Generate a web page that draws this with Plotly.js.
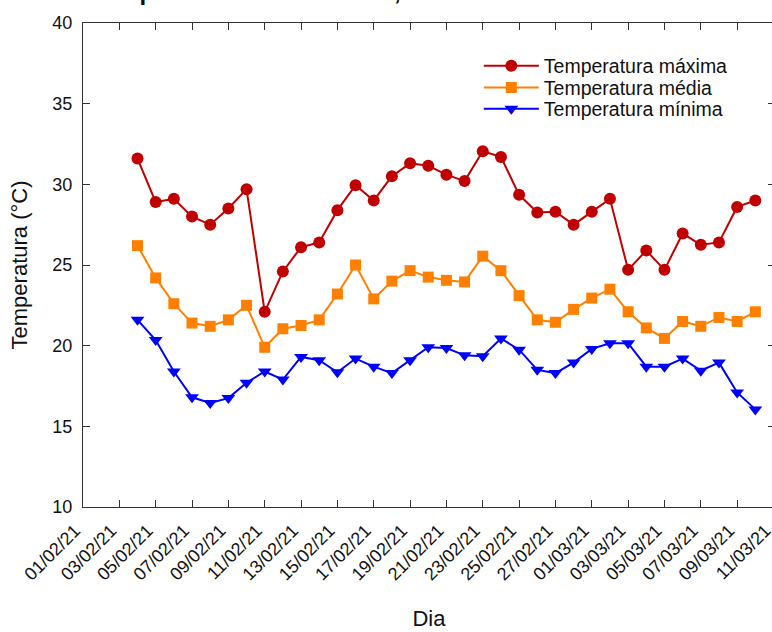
<!DOCTYPE html>
<html>
<head>
<meta charset="utf-8">
<script src="https://cdn.plot.ly/plotly-3.0.1.min.js"></script>
<style>html,body{margin:0;padding:0;overflow:hidden;background:#fff}</style>
</head>
<body>
<div id="chart"></div>
<script>
const dias = ["2021-02-04","2021-02-05","2021-02-06","2021-02-07","2021-02-08","2021-02-09","2021-02-10",
  "2021-02-11","2021-02-12","2021-02-13","2021-02-14","2021-02-15","2021-02-16","2021-02-17","2021-02-18",
  "2021-02-19","2021-02-20","2021-02-21","2021-02-22","2021-02-23","2021-02-24","2021-02-25","2021-02-26",
  "2021-02-27","2021-02-28","2021-03-01","2021-03-02","2021-03-03","2021-03-04","2021-03-05","2021-03-06",
  "2021-03-07","2021-03-08","2021-03-09","2021-03-10"];
const tempMax = [31.6,28.9,29.1,28.0,27.5,28.5,29.7,22.1,24.6,26.1,26.4,28.4,29.95,29.0,30.5,31.3,31.15,30.6,30.2,32.05,31.7,29.35,28.25,28.3,27.5,28.3,29.1,24.7,25.9,24.7,26.95,26.25,26.4,28.6,29.0];
const tempMed = [26.2,24.2,22.6,21.4,21.2,21.6,22.5,19.9,21.05,21.25,21.6,23.2,25.0,22.9,24.0,24.65,24.25,24.05,23.95,25.55,24.65,23.1,21.6,21.45,22.25,22.95,23.5,22.1,21.1,20.45,21.5,21.2,21.75,21.5,22.1];
const tempMin = [21.6,20.35,18.4,16.8,16.45,16.75,17.7,18.4,17.9,19.3,19.1,18.35,19.2,18.7,18.3,19.1,19.9,19.85,19.4,19.35,20.45,19.75,18.5,18.3,18.95,19.8,20.15,20.15,18.7,18.7,19.2,18.45,18.95,17.1,16.05];
const nomes = ["Temperatura máxima","Temperatura média","Temperatura mínima"];
const cores = ["#C00000","#FF8000","#0000FF"];

const font = "Arial, 'Liberation Sans', sans-serif";
const traces = [
  {x:dias, y:tempMax, name:nomes[0], type:"scatter", mode:"lines+markers", legend:"legend",
   line:{color:cores[0], width:2}, marker:{symbol:"circle", size:12, color:cores[0]}},
  {x:dias, y:tempMed, name:nomes[1], type:"scatter", mode:"lines+markers", legend:"legend2",
   line:{color:cores[1], width:2}, marker:{symbol:"square", size:11, color:cores[1]}},
  {x:dias, y:tempMin, name:nomes[2], type:"scatter", mode:"lines+markers", legend:"legend3",
   line:{color:cores[2], width:2}, marker:{symbol:"triangle-down", size:12, color:cores[2]}}
];
const axisCommon = {showline:true, linecolor:"#333", linewidth:1, mirror:"ticks", ticks:"inside",
  ticklen:7, tickcolor:"#333", showgrid:false, zeroline:false,
  tickfont:{family:font, size:18, color:"#111"}};
const legCommon = {x:0.572, xanchor:"left", yanchor:"middle", bgcolor:"rgba(0,0,0,0)",
  font:{family:font, size:19.5, color:"#111"}, itemwidth:55};
const layout = {
  width:776, height:632,
  margin:{l:83, r:1, t:23, b:125},
  paper_bgcolor:"#fff", plot_bgcolor:"#fff",
  font:{family:font, color:"#111"},
  title:{text:"Temperaturas em Teresina, 2021", font:{family:font, size:24, color:"#111", weight:"bold"},
    xref:"container", x:92/776, xanchor:"left", yref:"container", y:1, yanchor:"bottom"},
  xaxis:Object.assign({}, axisCommon, {type:"date", range:["2021-02-01","2021-03-11 02:00"],
    tick0:"2021-02-01", dtick:2*86400000, tickformat:"%d/%m/%y", tickangle:-45,
    ticklabelshift:-8, ticklabelstandoff:5,
    title:{text:"Dia", font:{family:font, size:22, color:"#111"}, standoff:27}}),
  yaxis:Object.assign({}, axisCommon, {range:[10,40], dtick:5, ticklabelstandoff:6,
    title:{text:"Temperatura (°C)", font:{family:font, size:22, color:"#111"}, standoff:18}}),
  legend:Object.assign({}, legCommon, {y:0.911}),
  legend2:Object.assign({}, legCommon, {y:0.866}),
  legend3:Object.assign({}, legCommon, {y:0.822}),
  showlegend:true
};
Plotly.newPlot("chart", traces, layout, {displayModeBar:false, staticPlot:true});
</script>
</body>
</html>
